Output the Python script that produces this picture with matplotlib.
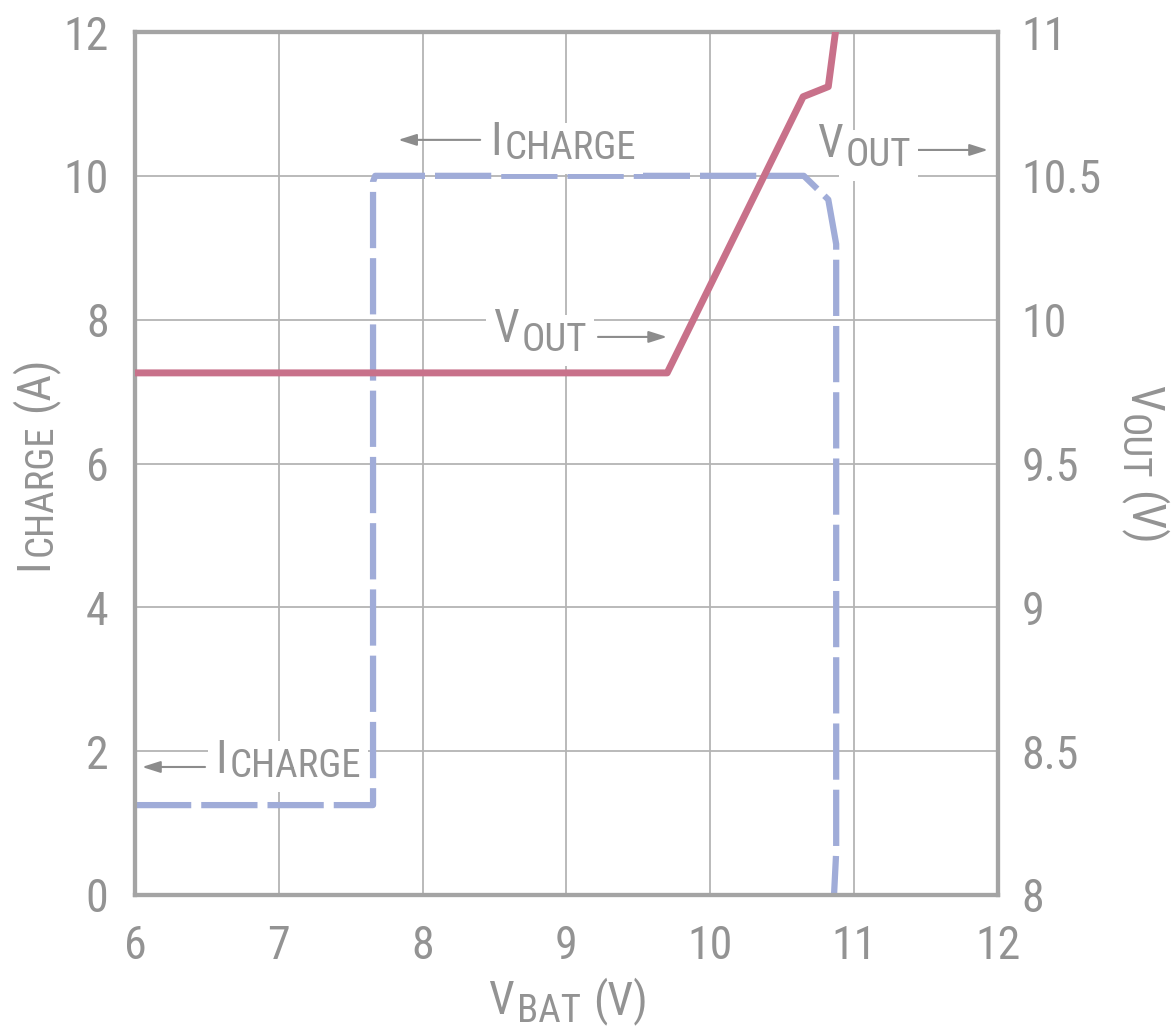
import matplotlib
matplotlib.use('Agg')
import matplotlib.pyplot as plt
from matplotlib import font_manager
from matplotlib.transforms import IdentityTransform

# charge current vs battery voltage (left axis)
vbat_i = [6.0, 7.655, 7.655, 7.67, 10.65, 10.82, 10.875, 10.875, 10.86]
i_charge = [1.25, 1.25, 9.92, 10.0, 10.0, 9.67, 9.05, 0.6, 0.0]

# output voltage vs battery voltage (right axis)
vbat_v = [6.0, 9.70, 10.645, 10.82, 10.87]
v_out = [9.815, 9.815, 10.775, 10.81, 11.0]

x_ticks = [6, 7, 8, 9, 10, 11, 12]
i_ticks = [0, 2, 4, 6, 8, 10, 12]
v_ticks = [8, 8.5, 9, 9.5, 10, 10.5, 11]
v_tick_labels = ['8', '8.5', '9', '9.5', '10', '10.5', '11']

# pick a narrow face if there is one
names = {f.name for f in font_manager.fontManager.ttflist}
FONT = 'Roboto'
for cand in ['Liberation Sans Narrow', 'Roboto Condensed', 'DejaVu Sans Condensed']:
    if cand in names:
        FONT = cand
        break

GREY = '#939393'
FS = 33
SFS = 28
plt.rcParams['font.family'] = [FONT, 'DejaVu Sans']

fig = plt.figure(figsize=(11.74, 10.30), dpi=100)
ax = fig.add_axes([135/1174, 1-895/1030, (998-135)/1174, (895-32)/1030])
ax2 = ax.twinx()

ax.set_xlim(6, 12)
ax.set_ylim(0, 12)
ax2.set_ylim(8, 11)
ax.set_xticks(x_ticks)
ax.set_yticks(i_ticks)
ax2.set_yticks(v_ticks)
ax2.set_yticklabels(v_tick_labels)

ax.grid(True, color='#b4b4b4', linewidth=1.3)
ax.set_axisbelow(True)

for a in (ax, ax2):
    for s in a.spines.values():
        s.set_color('#a4a4a4')
        s.set_linewidth(3)
    a.tick_params(length=0, labelsize=FS, labelcolor=GREY)
ax.tick_params(axis='y', pad=19)
ax.tick_params(axis='x', pad=21)
ax2.tick_params(axis='y', pad=17)

ax.plot(vbat_i, i_charge, color='#a0acd8', linewidth=4.5, dashes=(9.0, 1.6),
        solid_joinstyle='miter', zorder=3)
ax2.plot(vbat_v, v_out, color='#c8718a', linewidth=5, solid_joinstyle='round', zorder=4)

renderer = fig.canvas.get_renderer()
DIRS = {0: ((1, 0), (0, -1)), 90: ((0, 1), (1, 0)), 270: ((0, -1), (-1, 0))}


def sub_label(x, y, trans, main, sub, tail='', drop=8, rot=0, fs=FS, sfs=SFS,
              gap=3, box=None, z=5):
    # main letter, smaller lowered subscript, then optional tail at full size
    (dx, dy), (ux, uy) = DIRS[rot]
    px, py = trans.transform((x, y))
    kw = dict(ha='left', va='baseline', rotation=rot,
              rotation_mode='anchor', transform=IdentityTransform())
    pieces = [(main, fs, 0, gap), (sub, sfs, drop, 12)]
    if tail:
        pieces.append((tail, fs, 0, 0))
    for s, size, d, g in pieces:
        qx, qy = px + ux*d, py + uy*d
        if box:
            # white patch under the text, drawn first
            fig.text(qx, qy, s, fontsize=size, color='white', bbox=box, zorder=z, **kw)
        t = fig.text(qx, qy, s, fontsize=size, color=GREY, zorder=z+1, **kw)
        bb = t.get_window_extent(renderer)
        adv = bb.width if rot == 0 else bb.height
        px, py = px + dx*(adv+g), py + dy*(adv+g)


# axis labels
sub_label(488/1174, 1-1014/1030, fig.transFigure, 'V', 'BAT', '(V)', drop=8)
sub_label(47/1174, 1-570/1030, fig.transFigure, 'I', 'CHARGE', '(A)', drop=5, rot=90)
sub_label(1130/1174, 1-385/1030, fig.transFigure, 'V', 'OUT', '(V)', drop=9, rot=270)

box = dict(facecolor='white', edgecolor='none', pad=5)
arrow = dict(arrowstyle='-|>,head_length=1.1,head_width=0.35', color='#8c8c8c',
             linewidth=1.5, shrinkA=0, shrinkB=0)

# ICHARGE label, top
sub_label(8.468, 10.29, ax.transData, 'I', 'CHARGE', drop=4, box=box)
ax.annotate('', xy=(7.83, 10.5), xytext=(8.40, 10.5), arrowprops=arrow, zorder=7)
# VOUT label, top right
sub_label(10.742, 10.26, ax.transData, 'V', 'OUT', drop=9, box=box)
ax.annotate('', xy=(11.93, 10.36), xytext=(11.444, 10.36), arrowprops=arrow, zorder=7)
# VOUT label, middle
sub_label(8.489, 7.69, ax.transData, 'V', 'OUT', drop=9, box=box)
ax.annotate('', xy=(9.699, 7.76), xytext=(9.219, 7.76), arrowprops=arrow, zorder=7)
# ICHARGE label, bottom left
sub_label(6.556, 1.70, ax.transData, 'I', 'CHARGE', drop=4, box=box)
ax.annotate('', xy=(6.049, 1.78), xytext=(6.487, 1.78), arrowprops=arrow, zorder=7)

fig.savefig('out.png', dpi=100, facecolor='white')
